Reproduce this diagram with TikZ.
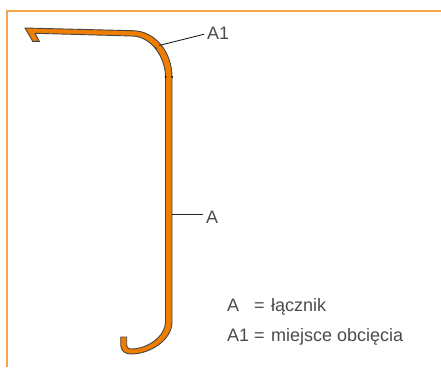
\documentclass[tikz,border=0pt]{standalone}
\usepackage{fontspec}
\setmainfont{Liberation Sans}
\usepackage{tikz}
\definecolor{frameline}{RGB}{247,164,80}
\definecolor{strip}{RGB}{238,125,0}
\definecolor{stripline}{RGB}{70,70,70}
\definecolor{labeltext}{RGB}{75,75,75}
\tikzstyle{label} = [inner sep=0pt, anchor=west, text=labeltext, font=\fontsize{18}{20}\selectfont]
\tikzstyle{leader} = [line width=0.9pt, draw=black!85, shorten >=3pt]
\tikzstyle{frame} = [line width=2pt, draw=frameline]
\begin{document}
\begin{tikzpicture}[x=1pt,y=-1pt]
	\useasboundingbox (0,0) rectangle (441,367);

	% Frame
	\draw [frame] (6.5,367) -- (6.5,10.5) -- (441,10.5);

	% Strip
	\draw [fill=strip, draw=stripline, line width=0.9pt, line join=miter]
		(25,28) -- (133,30.7)
		.. controls (155,31) and (172,52) .. (172,77)
		-- (172,322)
		.. controls (172,340) and (150,354) .. (131,354)
		.. controls (125,354) and (121,351) .. (120.7,345)
		-- (120.7,337) -- (126.7,337) -- (126.7,344)
		.. controls (126.7,347.5) and (128,349) .. (131,349)
		.. controls (148,349) and (165.5,336) .. (165.5,322)
		-- (165.5,77)
		.. controls (165.5,57) and (151,36) .. (131.7,36)
		-- (35,33.3) -- (39.3,41.3) -- (32.7,41.3) -- cycle;

	% Marks
	\draw [line width=0.9pt, draw=stripline] (155,47) -- (157,49);
	\fill [black] (165.5,77) circle (1pt) (172,77) circle (1pt);

	% Labels
	\node (aone) [label] at (207,33.5) {A1};
	\node (a) [label] at (206,217.5) {A};
	\node (legenda) [label] at (227,307) {\makebox[27pt][l]{A}=\hspace{1.5pt} łącznik};
	\node (legendaone) [label] at (227,337) {\makebox[27pt][l]{A1}=\hspace{1.5pt} miejsce obcięcia};

	% Leaders
	\coordinate (cut) at (159,45.5);
	\coordinate (side) at (172,214.5);
	\draw [leader] (cut) -- (aone.west);
	\draw [leader] (side) -- (side -| a.west);
\end{tikzpicture}
\end{document}
